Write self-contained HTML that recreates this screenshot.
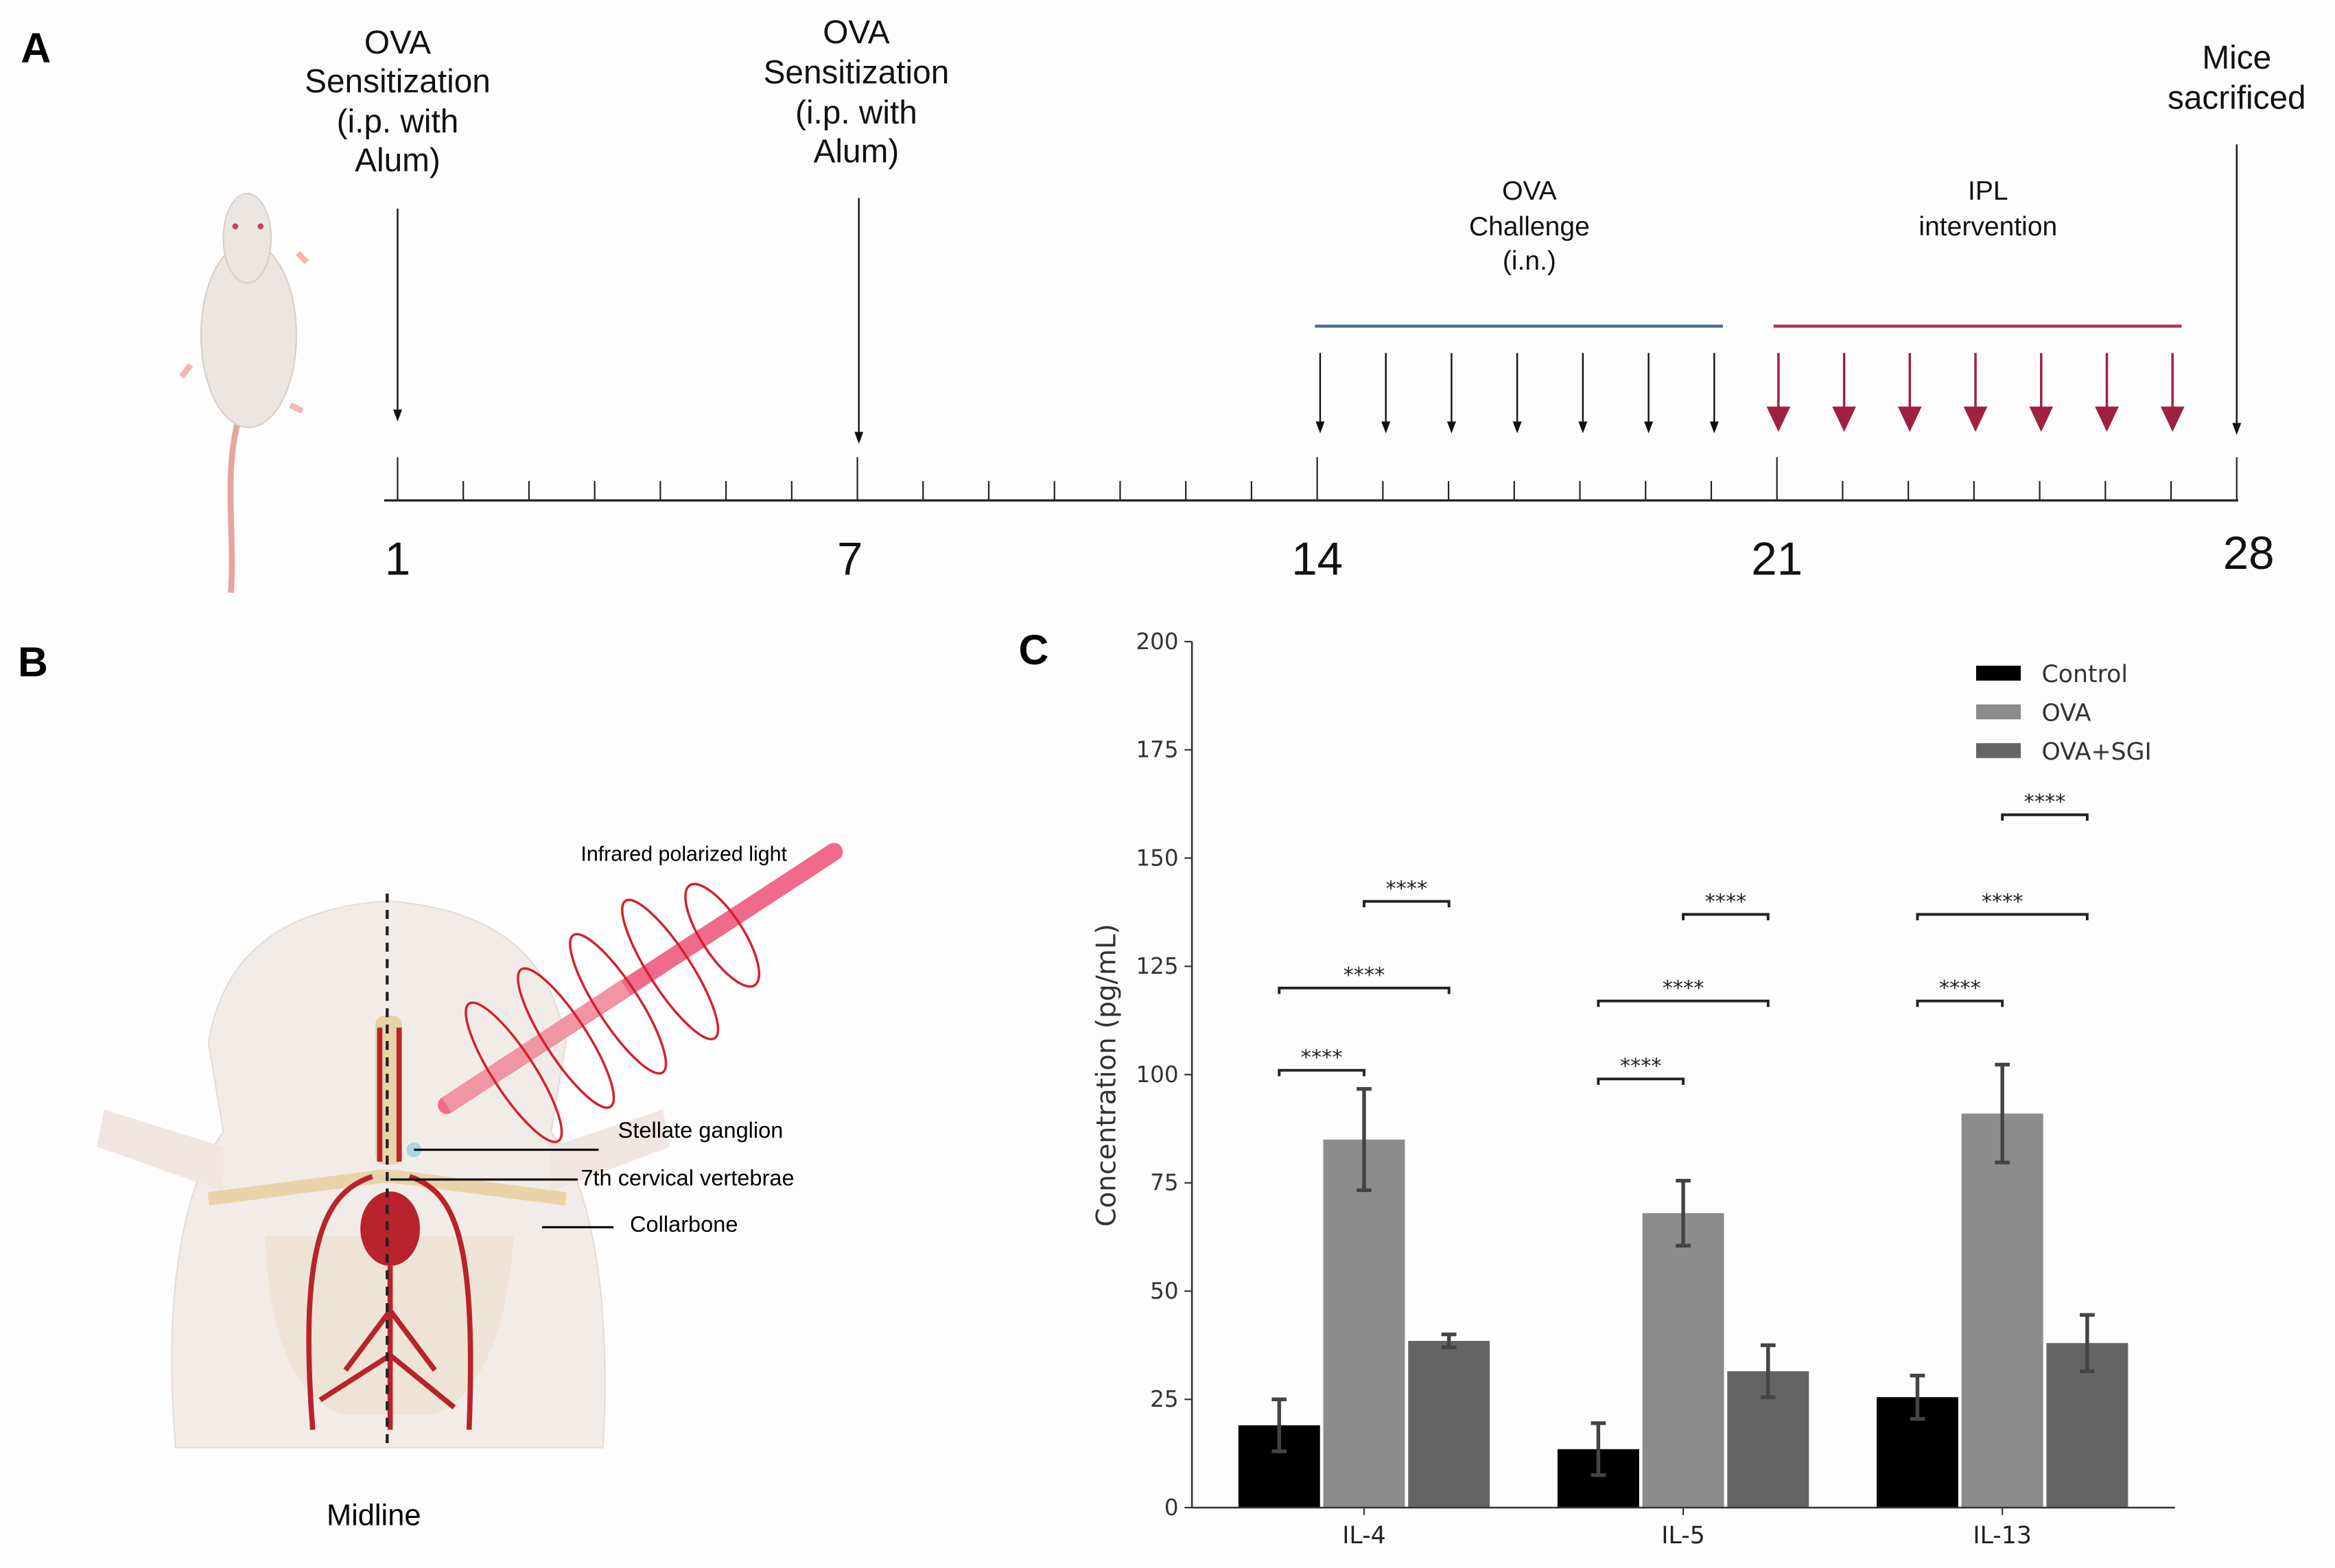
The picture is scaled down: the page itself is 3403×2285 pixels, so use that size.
<!DOCTYPE html>
<html><head><meta charset="utf-8">
<style>
html,body{margin:0;padding:0;background:#fff;}
svg{display:block;font-family:"Liberation Sans","DejaVu Sans",sans-serif;}
</style></head>
<body>
<svg id="fig" width="3403" height="2285" viewBox="0 0 3403 2285" xmlns="http://www.w3.org/2000/svg">
<rect width="3403" height="2285" fill="#fdfdfd"/>
<g id="root" transform="scale(2.1703)">
  <text x="14" y="42" font-size="28" font-weight="bold">A</text>
  <text x="12" y="454" font-size="28" font-weight="bold">B</text>
  <text x="684" y="446" font-size="28" font-weight="bold">C</text>

  <g>
    <path d="M160,282 C150,320 158,360 155,398" stroke="#e8a4a0" stroke-width="4" fill="none"/>
    <ellipse cx="167" cy="225" rx="32" ry="62" fill="#ece6e2" stroke="#d9cfca"/>
    <ellipse cx="166" cy="160" rx="16" ry="30" fill="#ece6e2" stroke="#d9cfca"/>
    <circle cx="158" cy="152" r="2" fill="#d04060"/><circle cx="175" cy="152" r="2" fill="#d04060"/>
    <path d="M128,245 l-6,8 M200,170 l6,6 M195,272 l8,4" stroke="#f0b8b0" stroke-width="4"/>
  </g>

  <g id="timeline"></g>

  <g>
    <path d="M118,972 C110,880 120,800 150,760 L140,700 C150,640 190,610 260,605 C330,610 370,640 380,700 L370,760 C400,800 410,880 405,972 Z" fill="#f2ece8" stroke="#e6dcd6"/>
    <path d="M150,770 L70,745 L65,770 L150,800 Z" fill="#efe6e2"/>
    <path d="M370,770 L445,745 L450,770 L370,800 Z" fill="#efe6e2"/>
    <path d="M178,830 C180,900 200,940 230,950 L290,950 C320,940 340,900 345,830 Z" fill="#eadfc8" opacity="0.6"/>
    <rect x="252" y="682" width="18" height="100" rx="6" fill="#e8d4a8"/>
    <path d="M140,805 L255,790 L265,790 L380,805" stroke="#e8d4a8" stroke-width="9" fill="none"/>
    <ellipse cx="262" cy="825" rx="20" ry="25" fill="#b8232c"/>
    <path d="M262,850 L262,960 M262,880 L232,920 M262,880 L292,920 M262,910 L215,940 M262,910 L305,945 M250,790 C220,800 200,830 210,960 M275,790 C305,800 320,830 315,960 M255,780 L255,690 M268,780 L268,690" stroke="#b8232c" stroke-width="3.5" fill="none"/>
    <line x1="260" y1="600" x2="260" y2="972" stroke="#222" stroke-width="2" stroke-dasharray="6,5"/>
    <line x1="300" y1="742" x2="560" y2="572" stroke="#f06a8a" stroke-width="12" stroke-linecap="round"/>
    <line x1="300" y1="742" x2="420" y2="663" stroke="#f0a0a8" stroke-width="12" opacity="0.8"/>
    <g fill="none" stroke="#d42030" stroke-width="1.6">
      <ellipse cx="345" cy="720" rx="14" ry="55" transform="rotate(-33 345 720)"/>
      <ellipse cx="380" cy="697" rx="14" ry="55" transform="rotate(-33 380 697)"/>
      <ellipse cx="415" cy="674" rx="14" ry="55" transform="rotate(-33 415 674)"/>
      <ellipse cx="450" cy="651" rx="14" ry="55" transform="rotate(-33 450 651)"/>
      <ellipse cx="485" cy="628" rx="14" ry="40" transform="rotate(-33 485 628)"/>
    </g>
    <circle cx="278" cy="772" r="5" fill="#a8d8e0"/>
    <line x1="278" y1="772" x2="402" y2="772" stroke="#111" stroke-width="1.5"/>
    <line x1="262" y1="792" x2="388" y2="792" stroke="#111" stroke-width="1.5"/>
    <line x1="364" y1="824" x2="412" y2="824" stroke="#111" stroke-width="1.5"/>
    <text x="390" y="578" font-size="14">Infrared polarized light</text>
    <text x="415" y="764" font-size="15">Stellate ganglion</text>
    <text x="390" y="796" font-size="15">7th cervical vertebrae</text>
    <text x="423" y="827" font-size="15">Collarbone</text>
    <text x="251" y="1024" font-size="20" text-anchor="middle">Midline</text>
  </g>

  <g id="chart"></g>
</g>
</svg>
<script>
const NS = "http://www.w3.org/2000/svg";
const categories = ["IL-4", "IL-5", "IL-13"];
const seriesNames = ["Control", "OVA", "OVA+SGI"];
const controlValues = [19, 13.5, 25.5];
const ovaValues = [85, 68, 91];
const sgiValues = [38.5, 31.5, 38];
const controlErr = [6, 6, 5];
const ovaErr = [11.7, 7.5, 11.3];
const sgiErr = [1.5, 6, 6.5];
const yTicks = [0, 25, 50, 75, 100, 125, 150, 175, 200];
const bracketCat = [0, 0, 0, 1, 1, 1, 2, 2, 2];
const bracketFrom = [0, 0, 1, 0, 0, 1, 0, 0, 1];
const bracketTo = [1, 2, 2, 1, 2, 2, 1, 2, 2];
const bracketLevel = [101, 120, 140, 99, 117, 137, 117, 137, 160];
// timeline data (tick indices 0..28)
const dayLabels = [1, 7, 14, 21, 28];
const dayLabelTicks = [0, 7, 14, 21, 28];
const challengeTicks = [14, 15, 16, 17, 18, 19, 20];
const iplTicks = [21, 22, 23, 24, 25, 26, 27];

function mk(tag, attrs, parent, text) {
  const e = document.createElementNS(NS, tag);
  for (const k in attrs) e.setAttribute(k, attrs[k]);
  if (text !== undefined) e.textContent = text;
  parent.appendChild(e);
  return e;
}

const chart = document.getElementById("chart");
const X0 = 800.4, X1 = 1460.5, Y0 = 1012.3, Y1 = 430.8;
const yScale = v => Y0 - (v / 200) * (Y0 - Y1);
const groupCenter = i => 916 + i * 214.3;
const barW = 54.8, barPitch = 57;
const barX = (i, s) => groupCenter(i) + (s - 1) * barPitch;
const colors = ["#000000", "#8c8c8c", "#646464"];
const allVals = [controlValues, ovaValues, sgiValues];
const allErr = [controlErr, ovaErr, sgiErr];

yTicks.forEach(t => {
  const tk = mk("line", {x1: X0 - 5, x2: X0, y1: yScale(t), y2: yScale(t), stroke: "#333", "stroke-width": 1}, chart);
  
  
  const tl = mk("text", {x: X0 - 9, y: yScale(t) + 5, "font-size": 15, "text-anchor": "end", fill: "#333", "font-family": "DejaVu Sans, sans-serif"}, chart, t);
  
  
});

for (let s = 0; s < 3; s++) {
  categories.forEach((c, i) => {
    const v = allVals[s][i], e = allErr[s][i], cx = barX(i, s);
    const r = mk("rect", {x: cx - barW / 2, y: yScale(v), width: barW, height: Y0 - yScale(v), fill: colors[s]}, chart);
    
    
    const g = mk("g", {stroke: "#444", "stroke-width": 2.5}, chart);
    
    
    mk("line", {x1: cx, x2: cx, y1: yScale(v - e), y2: yScale(v + e)}, g);
    mk("line", {x1: cx - 5, x2: cx + 5, y1: yScale(v - e), y2: yScale(v - e)}, g);
    mk("line", {x1: cx - 5, x2: cx + 5, y1: yScale(v + e), y2: yScale(v + e)}, g);
  });
}

const ax = mk("line", {x1: X0, x2: X0, y1: Y1, y2: Y0, stroke: "#333", "stroke-width": 1.2}, chart);


const xax = mk("line", {x1: X0, x2: X1, y1: Y0, y2: Y0, stroke: "#333", "stroke-width": 1.2}, chart);



categories.forEach((c, i) => {
  mk("line", {x1: groupCenter(i), x2: groupCenter(i), y1: Y0, y2: Y0 + 5, stroke: "#333"}, chart);
  const t = mk("text", {x: groupCenter(i), y: Y0 + 24, "font-size": 16, "text-anchor": "middle", fill: "#222", "font-family": "DejaVu Sans, sans-serif"}, chart, c);
  
  
});

const yt = mk("text", {x: 0, y: 0, "font-size": 18, "text-anchor": "middle", fill: "#333", transform: "translate(749 722) rotate(-90)", "font-family": "DejaVu Sans, sans-serif"}, chart, "Concentration (pg/mL)");



bracketLevel.forEach((lv, k) => {
  const xa = barX(bracketCat[k], bracketFrom[k]), xb = barX(bracketCat[k], bracketTo[k]);
  const y = yScale(lv);
  const b = mk("path", {d: `M${xa},${y + 4}V${y}H${xb}V${y + 4}`, stroke: "#222", "stroke-width": 1.8, fill: "none"}, chart);
  
  
  const st = mk("text", {x: (xa + xb) / 2, y: y - 4, "font-size": 14, "text-anchor": "middle", fill: "#222", "font-family": "DejaVu Sans, sans-serif"}, chart, "****");
  
  
});

seriesNames.forEach((n, s) => {
  const y = 452 + s * 26;
  const p = mk("rect", {x: 1327, y: y - 5, width: 30, height: 10, fill: colors[s]}, chart);
  
  
  const t = mk("text", {x: 1371, y: y + 6, "font-size": 16, fill: "#333", "font-family": "DejaVu Sans, sans-serif"}, chart, n);
  
  
});

// ---- Timeline ----
const tl = document.getElementById("timeline");
const tickX = i => 267 + i * (1235 / 28);
const BASE = 336;
const axisLine = mk("line", {x1: 258, x2: 1503, y1: BASE, y2: BASE, stroke: "#222", "stroke-width": 1.5}, tl);


for (let i = 0; i <= 28; i++) {
  const major = dayLabelTicks.includes(i);
  const t = mk("line", {x1: tickX(i), x2: tickX(i), y1: major ? 307 : 323, y2: BASE, stroke: "#222", "stroke-width": 1}, tl);
  
  
}
dayLabels.forEach((d, k) => {
  const i = dayLabelTicks[k];
  const t = mk("text", {x: tickX(i) + (d === 28 ? 8 : (d === 7 ? -5 : 0)), y: d === 28 ? 382 : 386, "font-size": 31, "text-anchor": "middle", fill: "#111"}, tl, d);
  
  
});
function arrow(x, y1, y2, color, big, name) {
  const g = mk("g", {}, tl);
  
  
  const hw = big ? 8 : 3, hl = big ? 17 : 8;
  mk("line", {x1: x, x2: x, y1: y1, y2: y2 - hl + 1, stroke: color, "stroke-width": big ? 1.6 : 1.1}, g);
  mk("path", {d: `M${x - hw},${y2 - hl}L${x + hw},${y2 - hl}L${x},${y2}Z`, fill: color}, g);
}
arrow(tickX(0), 140, 283, "#111", false, "sensitization-arrow");
arrow(tickX(7) + 1, 133, 298, "#111", false, "sensitization-arrow");
arrow(tickX(28), 97, 292, "#111", false, "sacrifice-arrow");
challengeTicks.forEach(i => arrow(tickX(i) + 2, 237, 291, "#111", false, "challenge-arrow"));
iplTicks.forEach(i => arrow(tickX(i) + 1, 237, 290, "#a0203f", true, "ipl-arrow"));
const bl = mk("line", {x1: 883, x2: 1157, y1: 219, y2: 219, stroke: "#4a6a90", "stroke-width": 2}, tl);


const rl = mk("line", {x1: 1191, x2: 1465, y1: 219, y2: 219, stroke: "#b03050", "stroke-width": 2}, tl);


function multiText(x, ys, lines, size, name) {
  const t = mk("text", {"font-size": size, "text-anchor": "middle", fill: "#111"}, tl);
  
  
  lines.forEach((l, i) => mk("tspan", {x: x, y: ys[i]}, t, l));
}
multiText(267, [36, 62, 89, 115], ["OVA", "Sensitization", "(i.p. with", "Alum)"], 22, "sensitization-label-day1");
multiText(575, [29, 56, 83, 109], ["OVA", "Sensitization", "(i.p. with", "Alum)"], 22, "sensitization-label-day7");
multiText(1502, [46, 73], ["Mice", "sacrificed"], 22, "sacrifice-label");
multiText(1027, [134, 158, 181], ["OVA", "Challenge", "(i.n.)"], 18, "challenge-label");
multiText(1335, [134, 158], ["IPL", "intervention"], 18, "ipl-label");
</script>
</body></html>
